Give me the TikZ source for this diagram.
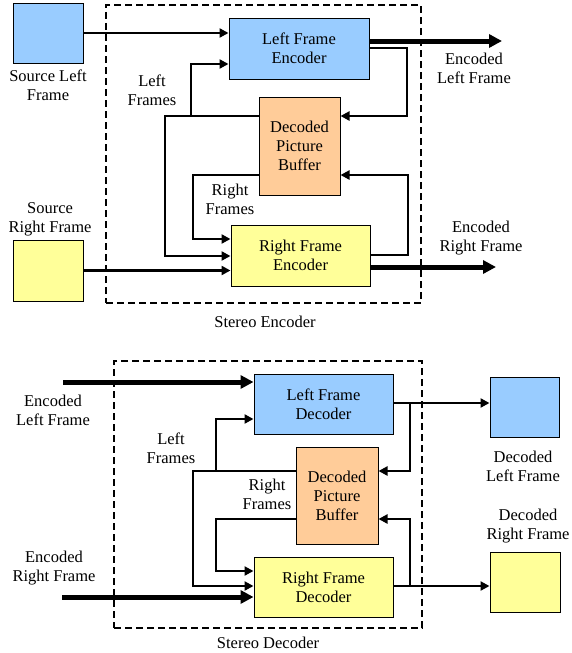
\documentclass[tikz,border=0pt]{standalone}
\usepackage{fontspec}
\setmainfont{Liberation Serif}
\usetikzlibrary{arrows.meta}
\definecolor{blueF}{HTML}{99CCFF}
\definecolor{orangeF}{HTML}{FFCC99}
\definecolor{yellowF}{HTML}{FFFF99}
\begin{document}
\begin{tikzpicture}[x=1pt,y=-1pt,
  txt/.style={align=center,font=\fontsize{16.5}{19}\selectfont,inner sep=0pt},
  box/.style={draw,line width=1pt,inner sep=0pt,align=center,font=\fontsize{16.5}{19}\selectfont},
  dashbox/.style={draw,line width=2pt,dash pattern=on 7pt off 4pt,inner sep=0pt},
  conn/.style={line width=2.5pt,-{Triangle[length=9pt,width=9pt]}},
  line/.style={line width=2.5pt},
  thickarrow/.style={line width=5pt,-{Triangle[length=13pt,width=13pt]}}]
\useasboundingbox (0,0) rectangle (571,653);

% ---------------- Encoder ----------------
\node[dashbox,minimum width=315pt,minimum height=298pt] (enc) at (263.5,154) {};
\node[txt] (encT) at (265,322) {Stereo Encoder};

\node[box,fill=blueF,minimum width=70pt,minimum height=60pt] (srcL) at (48,33) {};
\node[txt] (srcLT) at (48,85.5) {Source Left\\Frame};
\node[box,fill=yellowF,minimum width=70pt,minimum height=61pt] (srcR) at (48,270.5) {};
\node[txt] (srcRT) at (50,219.5) {Source\\Right Frame};

\node[box,fill=blueF,minimum width=140pt,minimum height=61pt] (lfe) at (299,48.5) {Left Frame\\Encoder};
\node[box,fill=orangeF,minimum width=81pt,minimum height=98pt] (dpb) at (299.5,146) {Decoded\\Picture\\Buffer};
\node[box,fill=yellowF,minimum width=139pt,minimum height=61pt] (rfe) at (300.5,255.5) {Right Frame\\Encoder};

\node[txt] (lfT) at (152,90.5) {Left\\Frames};
\node[txt] (rfT) at (230,199.5) {Right\\Frames};
\node[txt] (elT) at (474,68.5) {Encoded\\Left Frame};
\node[txt] (erT) at (481,238.5) {Encoded\\Right Frame};

\coordinate (encLout) at (502,41);
\coordinate (encRout) at (496,267);

\draw[conn] (srcL.east) -- (srcL.east -| lfe.west);
\draw[conn] (srcR.east) -- (srcR.east -| rfe.west);
\draw[conn] (dpb.west |- 0,116) -- (165,116) |- (rfe.west |- 0,256);
\draw[conn] (191,116) |- (lfe.west |- 0,64);
\draw[conn] (dpb.west |- 0,175) -- (193,175) |- (rfe.west |- 0,239);
\draw[conn] (lfe.east |- 0,48) -- (407,48) |- (dpb.east |- 0,116);
\draw[conn] (rfe.east |- 0,255) -- (408,255) |- (dpb.east |- 0,175);
\draw[thickarrow] (lfe.east |- encLout) -- (encLout);
\draw[thickarrow] (rfe.east |- encRout) -- (encRout);

% ---------------- Decoder ----------------
\node[dashbox,minimum width=308pt,minimum height=267pt] (dec) at (268,494.5) {};
\node[txt] (decT) at (268,643) {Stereo Decoder};

\node[box,fill=blueF,minimum width=139pt,minimum height=60pt] (lfd) at (323.5,404) {Left Frame\\Decoder};
\node[box,fill=orangeF,minimum width=82pt,minimum height=97pt] (dpb2) at (337,495.5) {Decoded\\Picture\\Buffer};
\node[box,fill=yellowF,minimum width=139pt,minimum height=60pt] (rfd) at (323.5,587) {Right Frame\\Decoder};

\node[box,fill=blueF,minimum width=69pt,minimum height=60pt] (dL) at (524.5,407) {};
\node[box,fill=yellowF,minimum width=70pt,minimum height=60pt] (dR) at (525,582) {};

\node[txt] (dLT) at (523,466) {Decoded\\Left Frame};
\node[txt] (dRT) at (528,526.5) {Decoded\\Right Frame};
\node[txt] (eLT) at (53,410.5) {Encoded\\Left Frame};
\node[txt] (eRT) at (54,568.5) {Encoded\\Right Frame};
\node[txt] (lf2T) at (171,448.5) {Left\\Frames};
\node[txt] (rf2T) at (267,494.5) {Right\\Frames};

\coordinate (eLin) at (63,382);
\coordinate (eRin) at (62,597);

\draw[thickarrow] (eLin) -- (lfd.west |- eLin);
\draw[thickarrow] (eRin) -- (rfd.west |- eRin);
\draw[conn] (dpb2.west |- 0,471) -- (193,471) |- (rfd.west |- 0,586);
\draw[conn] (216,471) |- (lfd.west |- 0,419);
\draw[conn] (dpb2.west |- 0,519) -- (216,519) |- (rfd.west |- 0,571);
\draw[conn] (lfd.east |- 0,403) -- (dL.west |- 0,403);
\draw[conn] (410,403) |- (dpb2.east |- 0,471);
\draw[conn] (rfd.east |- 0,586) -- (dR.west |- 0,586);
\draw[conn] (410,586) |- (dpb2.east |- 0,519);
\end{tikzpicture}
\end{document}
